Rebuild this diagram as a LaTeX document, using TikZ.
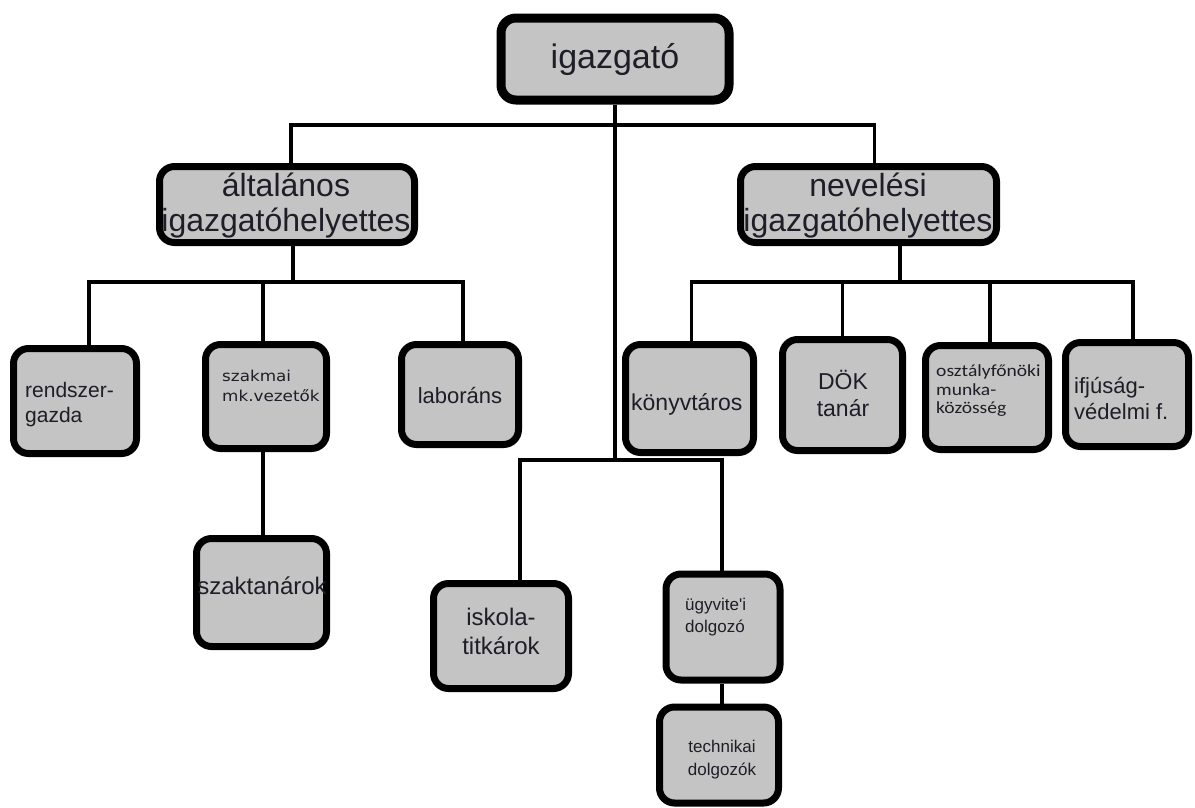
\documentclass[tikz,border=0pt]{standalone}
\usepackage{fontspec}
\setmainfont{Liberation Sans}
\newfontfamily\lsn{Liberation Sans}
\newfontfamily\dvs[FakeStretch=1.12]{DejaVu Sans}
\newfontfamily\calib[FakeStretch=1.15]{Carlito}
\definecolor{boxgray}{RGB}{196,196,196}
\definecolor{txt}{RGB}{30,30,40}
\tikzset{
 orgbox/.style={draw=black, fill=boxgray, line width=7pt, rounded corners=15pt, inner sep=0pt, rectangle},
 conn/.style={draw=black, line width=3.5pt},
 lbl/.style={inner sep=0pt, text=txt}
}
\begin{document}
\begin{tikzpicture}[x=1pt,y=-1pt]
\fill[white] (0,0) rectangle (1195,807);
\useasboundingbox (0,0) rectangle (1195,807);
% boxes
\node[orgbox, line width=9pt, minimum width=228pt, minimum height=82pt] (ig) at (615,59) {};
\node[orgbox, minimum width=255pt, minimum height=76pt] (alt) at (287,204.5) {};
\node[orgbox, minimum width=256pt, minimum height=76pt] (nev) at (868.5,204.5) {};
\node[orgbox, minimum width=123pt, minimum height=105pt] (rend) at (75,401) {};
\node[orgbox, minimum width=121pt, minimum height=104pt] (szak) at (266,396.5) {};
\node[orgbox, minimum width=117pt, minimum height=100pt] (lab) at (460,394.5) {};
\node[orgbox, minimum width=130pt, minimum height=108pt] (szt) at (261.5,592.5) {};
\node[orgbox, minimum width=128pt, minimum height=108pt] (kony) at (689.5,398.5) {};
\node[orgbox, minimum width=120pt, minimum height=111pt] (dok) at (842.5,395) {};
\node[orgbox, minimum width=123pt, minimum height=104pt] (osz) at (987,397.5) {};
\node[orgbox, minimum width=123pt, minimum height=104pt] (ifj) at (1127,394.5) {};
\node[orgbox, minimum width=135pt, minimum height=105pt] (isk) at (501,636) {};
\node[orgbox, minimum width=114pt, minimum height=106pt] (ugy) at (723,627) {};
\node[orgbox, minimum width=119pt, minimum height=96pt] (tech) at (719,755) {};
% texts
\node[lbl, anchor=base, font=\fontsize{34}{36}\selectfont] (tig) at (615,68) {igazgató};
\node[lbl, align=center, font=\fontsize{32}{35}\selectfont] (talt) at (286,205.5) {általános\\igazgatóhelyettes};
\node[lbl, align=center, font=\fontsize{32}{35}\selectfont] (tnev) at (868,205.5) {nevelési\\igazgatóhelyettes};
\node[lbl, align=left, anchor=west, font=\fontsize{21}{25}\selectfont] (trend) at (25,405) {rendszer-\\gazda};
\node[lbl, align=left, anchor=west, font=\dvs\fontsize{15}{20}\selectfont] (tszak) at (222,386) {szakmai\\mk.vezetők};
\node[lbl, font=\fontsize{22}{26}\selectfont] (tlab) at (460,395) {laboráns};
\node[lbl, font=\fontsize{24}{28}\selectfont] (tszt) at (262,586) {szaktanárok};
\node[lbl, anchor=west, font=\fontsize{23}{28}\selectfont] (tkony) at (631,404) {könyvtáros};
\node[lbl, align=center, font=\fontsize{23}{27}\selectfont] (tdok) at (843,393) {DÖK\\tanár};
\node[lbl, align=left, anchor=west, font=\calib\fontsize{17}{18.5}\selectfont] (tosz) at (936,391) {osztályfőnöki\\munka-\\közösség};
\node[lbl, align=left, anchor=west, font=\fontsize{22}{26}\selectfont] (tifj) at (1074,398) {ifjúság-\\védelmi f.};
\node[lbl, align=center, font=\fontsize{24}{29}\selectfont] (tisk) at (501,631) {iskola-\\titkárok};
\node[lbl, align=left, anchor=west, font=\lsn\fontsize{17}{22}\selectfont] (tugy) at (685,617) {ügyvite'i\\dolgozó};
\node[lbl, align=center, font=\fontsize{17}{23}\selectfont] (ttech) at (722,760) {technikai\\dolgozók};
% connectors
\coordinate (topbus) at (615,125);
\coordinate (lbus) at (293,282);
\coordinate (rbus) at (900,282);
\coordinate (bbus) at (615,460);
\draw[conn] (ig.south) -- (bbus);
\draw[conn] ([xshift=4pt]alt.north) |- (topbus) -| ([xshift=6pt]nev.north);
\draw[conn] ([xshift=6pt]alt.south) -- ([xshift=6pt]alt.south |- lbus);
\draw[conn] ([xshift=14pt]rend.north) |- (lbus) -| ([xshift=3pt]lab.north);
\draw[conn] ([xshift=-3pt]szak.north) -- ([xshift=-3pt]szak.north |- lbus);
\draw[conn] ([xshift=-3pt]szak.south) -- ([xshift=-3pt]szak.south |- szt.north);
\draw[conn] ([xshift=31.5pt]nev.south) -- (rbus);
\draw[conn] ([xshift=2pt]kony.north) |- (rbus) -| ([xshift=6pt]ifj.north);
\draw[conn] (dok.north) -- (dok.north |- rbus);
\draw[conn] ([xshift=3pt]osz.north) -- ([xshift=3pt]osz.north |- rbus);
\draw[conn] ([xshift=19pt]isk.north) |- (bbus) -| ([xshift=-1pt]ugy.north);
\draw[conn] ([xshift=-1pt]ugy.south) -- ([xshift=-1pt]ugy.south |- tech.north);
\end{tikzpicture}
\end{document}
